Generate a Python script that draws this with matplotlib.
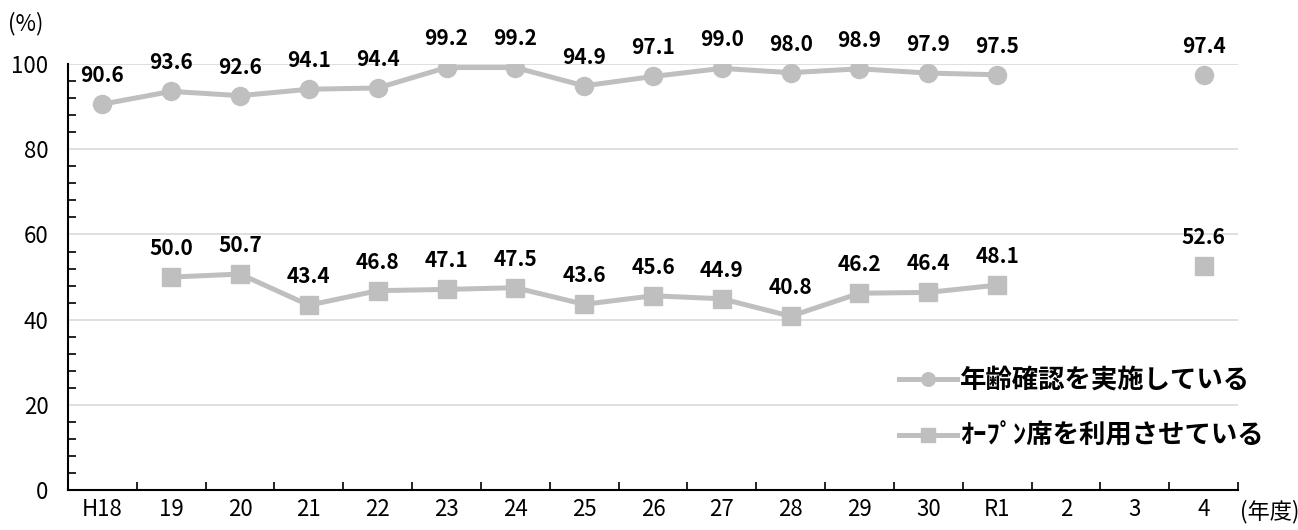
import numpy as np
import matplotlib.pyplot as plt
from matplotlib.ticker import MultipleLocator

plt.rcParams['font.family'] = ['Noto Sans CJK JP', 'DejaVu Sans']

# 年度ラベルと調査結果（%）
years = ['H18', '19', '20', '21', '22', '23', '24', '25', '26', '27',
         '28', '29', '30', 'R1', '2', '3', '4']
age_check = [90.6, 93.6, 92.6, 94.1, 94.4, 99.2, 99.2, 94.9, 97.1, 99.0,
             98.0, 98.9, 97.9, 97.5, None, None, 97.4]
open_seat = [None, 50.0, 50.7, 43.4, 46.8, 47.1, 47.5, 43.6, 45.6, 44.9,
             40.8, 46.2, 46.4, 48.1, None, None, 52.6]
series_names = ['年齢確認を実施している', 'ｵｰﾌﾟﾝ席を利用させている']

gray = '#bfbfbf'
x = np.arange(len(years))
y1 = np.array([np.nan if v is None else v for v in age_check])
y2 = np.array([np.nan if v is None else v for v in open_seat])

fig = plt.figure(figsize=(12.98, 5.30), dpi=100)
ax = fig.add_axes([0.0524, 0.0755, 0.9014, 0.8035])

ax.plot(x, y1, color=gray, lw=3.6, marker='o', ms=13, label=series_names[0], zorder=3)
ax.plot(x, y2, color=gray, lw=3.6, marker='s', ms=13, label=series_names[1], zorder=3)

# データラベル
for xs, ys in ((x, y1), (x, y2)):
    for xi, yi in zip(xs, ys):
        if np.isnan(yi):
            continue
        ax.annotate(f'{yi:.1f}', (xi, yi), xytext=(0, 13), textcoords='offset points',
                    ha='center', va='bottom', fontsize=15, fontweight='bold')

ax.set_xlim(-0.5, len(years) - 0.5)
ax.set_ylim(0, 100)
ax.set_xticks(x)
ax.set_xticklabels(years, fontsize=16)
ax.set_xticks(np.arange(-0.5, len(years), 1), minor=True)
ax.tick_params(axis='x', which='major', length=0, pad=6)
ax.tick_params(axis='x', which='minor', length=6, width=1.2, direction='in')
ax.yaxis.set_major_locator(MultipleLocator(20))
ax.yaxis.set_minor_locator(MultipleLocator(4))
ax.tick_params(axis='y', which='major', length=0, labelsize=16, pad=14)
ax.tick_params(axis='y', which='minor', length=6, width=1.2, direction='in')
ax.grid(axis='y', color='#d9d9d9', lw=1.2)
ax.set_axisbelow(True)
for side in ('top', 'right'):
    ax.spines[side].set_visible(False)
for side in ('left', 'bottom'):
    ax.spines[side].set_linewidth(1.5)

fig.text(0.006, 0.955, '(%)', fontsize=16, ha='left', va='center')
fig.text(0.955, 0.035, '(年度)', fontsize=16, ha='left', va='center')

leg = ax.legend(loc='upper left', bbox_to_anchor=(0.69, 0.345), frameon=False,
                fontsize=19, handlelength=2.2, handletextpad=0.1,
                labelspacing=1.1, markerscale=0.75)
for t in leg.get_texts():
    t.set_fontweight('bold')

fig.savefig('out.png', dpi=100)
